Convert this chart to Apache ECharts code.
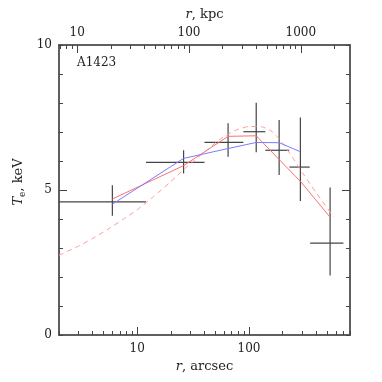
<!DOCTYPE html>
<html>
<head>
<meta charset="utf-8">
<script src="https://cdn.jsdelivr.net/npm/echarts@6/dist/echarts.min.js"></script>
<style>
  html, body { margin: 0; padding: 0; background: #fff; }
  #chart { width: 382px; height: 382px; }
</style>
</head>
<body>
<div id="chart"></div>
<script>
// A1423 temperature profile
var kpcPerArcsec = 3.44

// data bins (arcsec / keV)
var rArcsec = [6, 26, 65, 116, 186, 288, 531]
var rLo = [2, 12, 40, 89, 140, 230, 352]
var rHi = [12, 40, 89, 140, 229, 349, 699]
var tKeV = [4.59, 5.95, 6.64, 7.01, 6.37, 5.79, 3.17]
var tLo = [4.11, 5.57, 6.15, 6.30, 5.52, 4.62, 2.05]
var tHi = [5.16, 6.37, 7.30, 8.01, 7.41, 7.50, 5.09]

// projected model (red) and second fit (blue)
var redT = [4.69, 5.84, 6.85, 6.87, 6.05, 5.30, 4.06]
var blueR = [6, 26, 65, 116, 186, 288]
var blueT = [4.51, 6.09, 6.43, 6.64, 6.63, 6.32]

// 3D model (dashed)
var modelR = [2, 3, 4, 5.5, 7.5, 10, 14, 20, 28, 40, 55, 75, 100, 130, 160, 200, 250, 300, 400, 569]
var modelT = [2.75, 3.07, 3.33, 3.65, 3.99, 4.32, 4.77, 5.29, 5.81, 6.3, 6.75, 7.05, 7.19, 7.18, 7.02, 6.62, 6.07, 5.6, 4.9, 4.08]

// axis ticks
var arcMajor = [10, 100]
var arcMinor = [2, 3, 4, 5, 6, 7, 8, 9, 20, 30, 40, 50, 60, 70, 80, 90, 200, 300, 400, 500, 600, 700, 800]
var kpcMajor = [10, 100, 1000]
var kpcMinor = [7, 8, 9, 20, 30, 40, 50, 60, 70, 80, 90, 200, 300, 400, 500, 600, 700, 800, 900, 2000]
var xMin = 2, xMax = 800

function lg(v) { return Math.log10(v) }
function lgKpc(v) { return Math.log10(v / kpcPerArcsec) }

var font = 'DejaVu Serif'
var axisColor = '#555'
var tickColor = '#444'
var textColor = '#222'

var myChart = echarts.init(document.getElementById('chart'))

function xAxisBase(pos) {
  return {
    type: 'value',
    position: pos,
    min: lg(xMin),
    max: lg(xMax),
    splitLine: { show: false },
    axisLine: { show: true, onZero: false, lineStyle: { color: axisColor, width: 1.5 } },
    axisTick: { show: true, inside: true, length: 4, lineStyle: { color: tickColor, width: 1 } },
    axisLabel: { show: false }
  }
}

function yAxisBase(pos) {
  return {
    type: 'value',
    position: pos,
    min: 0,
    max: 10,
    interval: 1,
    splitLine: { show: false },
    axisLine: { show: true, onZero: false, lineStyle: { color: axisColor, width: 1.5 } },
    axisTick: { show: true, inside: true, length: 4, lineStyle: { color: tickColor, width: 1 } },
    axisLabel: { show: false }
  }
}

// bottom: minor + major
var xBotMinor = xAxisBase('bottom')
xBotMinor.axisTick.customValues = arcMinor.map(lg)

var xBotMajor = xAxisBase('bottom')
xBotMajor.axisTick.customValues = arcMajor.map(lg)
xBotMajor.axisTick.length = 8
xBotMajor.axisLabel = {
  show: true, customValues: arcMajor.map(lg), margin: 8,
  fontFamily: font, fontSize: 12, color: textColor,
  formatter: function (v) { return String(Math.round(Math.pow(10, v))) }
}
xBotMajor.name = '{i|r}, arcsec'
xBotMajor.nameLocation = 'middle'
xBotMajor.nameGap = 20
xBotMajor.nameTextStyle = {
  fontFamily: font, fontSize: 13, color: textColor,
  rich: { i: { fontFamily: font, fontSize: 13, fontStyle: 'italic', color: textColor } }
}

// top: kpc
var xTopMinor = xAxisBase('top')
xTopMinor.axisTick.customValues = kpcMinor.map(lgKpc)

var xTopMajor = xAxisBase('top')
xTopMajor.axisTick.customValues = kpcMajor.map(lgKpc)
xTopMajor.axisTick.length = 8
xTopMajor.axisLabel = {
  show: true, customValues: kpcMajor.map(lgKpc), margin: 6,
  fontFamily: font, fontSize: 12, color: textColor,
  formatter: function (v) { return String(Math.round(Math.pow(10, v) * kpcPerArcsec)) }
}
xTopMajor.name = '{i|r}, kpc'
xTopMajor.nameLocation = 'middle'
xTopMajor.nameGap = 24
xTopMajor.nameTextStyle = {
  fontFamily: font, fontSize: 13, color: textColor,
  rich: { i: { fontFamily: font, fontSize: 13, fontStyle: 'italic', color: textColor } }
}

// y axes
var yLeft = yAxisBase('left')
yLeft.axisLabel = {
  show: true, customValues: [0, 5, 10], margin: 7,
  fontFamily: font, fontSize: 12, color: textColor
}
var yLeftMajor = yAxisBase('left')
yLeftMajor.axisTick.customValues = [5]
yLeftMajor.axisTick.length = 8
yLeftMajor.name = '{i|T}{s|e}{n|, keV}'
yLeftMajor.nameLocation = 'middle'
yLeftMajor.nameGap = 32
yLeftMajor.nameTextStyle = {
  fontFamily: font, fontSize: 13, color: textColor,
  padding: [0, 0, 0, 16],
  rich: {
    i: { fontFamily: font, fontSize: 13, fontStyle: 'italic', color: textColor },
    s: { fontFamily: font, fontSize: 9, color: textColor, padding: [7, 0, 0, 0] },
    n: { fontFamily: font, fontSize: 13, color: textColor }
  }
}
var yRight = yAxisBase('right')
var yRightMajor = yAxisBase('right')
yRightMajor.axisTick.customValues = [5]
yRightMajor.axisTick.length = 8

function pairs(xs, ys) {
  return xs.map(function (x, i) { return [lg(x), ys[i]] })
}

var errData = rArcsec.map(function (r, i) {
  return [lg(r), tKeV[i], lg(rLo[i]), lg(rHi[i]), tLo[i], tHi[i]]
})

var option = {
  animation: false,
  backgroundColor: '#fff',
  grid: { left: 59, right: 32, top: 45, bottom: 47, containLabel: false },
  xAxis: [xBotMinor, xBotMajor, xTopMinor, xTopMajor],
  yAxis: [yLeft, yLeftMajor, yRight, yRightMajor],
  graphic: [{
    type: 'text', left: 77, top: 57,
    style: { text: 'A1423', fontFamily: font, fontSize: 12, fill: textColor }
  }],
  series: [
    {
      name: 'model 3d',
      type: 'line',
      data: pairs(modelR, modelT),
      smooth: 0.2,
      showSymbol: false,
      lineStyle: { color: '#ff9c9c', width: 1, type: [5, 4] }
    },
    {
      name: 'projected',
      type: 'line',
      data: pairs(rArcsec, redT),
      showSymbol: false,
      lineStyle: { color: '#ff7070', width: 1 }
    },
    {
      name: 'blue',
      type: 'line',
      data: pairs(blueR, blueT),
      showSymbol: false,
      lineStyle: { color: '#7c7cff', width: 1 }
    },
    {
      name: 'data',
      type: 'custom',
      data: errData,
      encode: { x: [0, 2, 3], y: [1, 4, 5] },
      renderItem: function (params, api) {
        var l = api.coord([api.value(2), api.value(1)])
        var r = api.coord([api.value(3), api.value(1)])
        var lo = api.coord([api.value(0), api.value(4)])
        var hi = api.coord([api.value(0), api.value(5)])
        var st = { stroke: '#444', lineWidth: 1.2 }
        return {
          type: 'group',
          children: [
            { type: 'line', shape: { x1: l[0], y1: l[1], x2: r[0], y2: r[1] }, style: st },
            { type: 'line', shape: { x1: lo[0], y1: lo[1], x2: hi[0], y2: hi[1] }, style: st }
          ]
        }
      }
    }
  ]
}
myChart.setOption(option)

window.addEventListener('resize', function () {
  myChart.resize()
})
</script>
</body>
</html>
